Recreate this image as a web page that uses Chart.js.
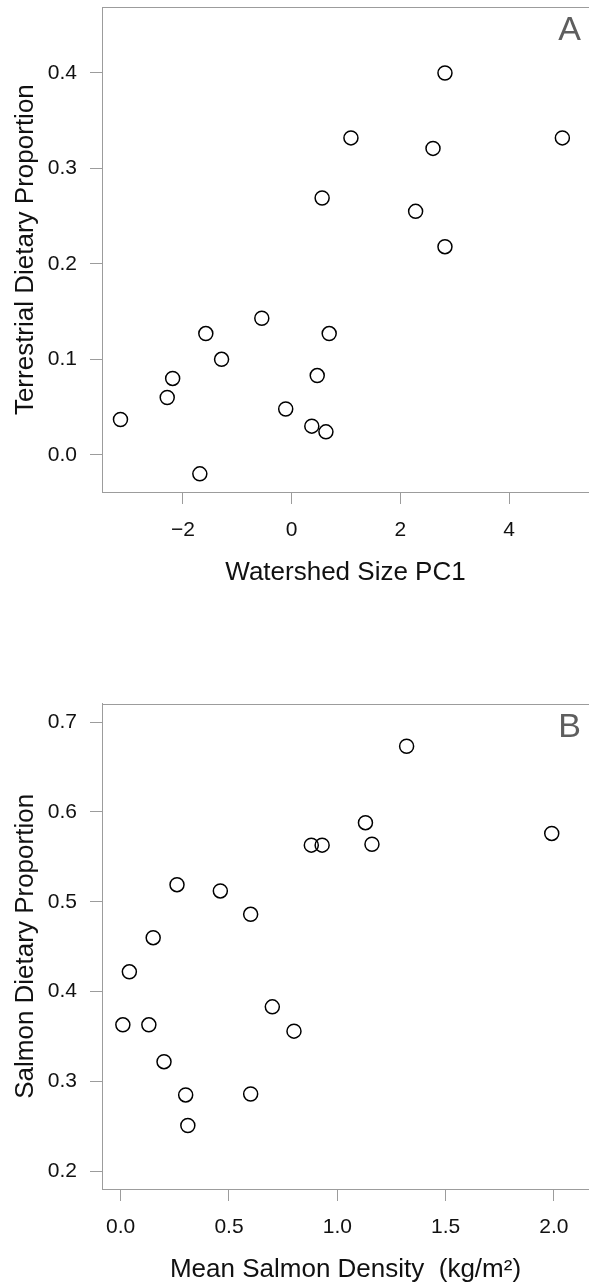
<!DOCTYPE html>
<html><head><meta charset="utf-8">
<script src="https://cdn.jsdelivr.net/npm/chart.js@4/dist/chart.umd.min.js"></script>
<style>
html,body{margin:0;padding:0;background:#fff;}
#wrap{position:relative;width:589px;height:1285px;overflow:hidden;background:#fff;}
.box{position:absolute;left:0;width:589px;}
</style></head><body>
<div id="wrap">
<div class="box" style="top:0;height:640px"><canvas id="cA"></canvas></div>
<div class="box" style="top:640px;height:645px"><canvas id="cB"></canvas></div>
</div>
<script>
// Panel A data
const watershedPC1 = [2.82, 1.09, 2.60, 4.98, 0.56, 2.28, 2.82, -3.15, -2.29, -2.19, -1.58, -1.29, -0.55, -0.11, -1.69, 0.69, 0.47, 0.37, 0.63];
const terrestrialProp = [0.400, 0.332, 0.321, 0.332, 0.269, 0.255, 0.218, 0.037, 0.060, 0.080, 0.127, 0.100, 0.143, 0.048, -0.020, 0.127, 0.083, 0.030, 0.024];
// Panel B data
const salmonDensity = [0.26, 0.46, 0.60, 1.32, 1.13, 0.88, 0.93, 1.16, 1.99, 0.15, 0.04, 0.01, 0.13, 0.20, 0.30, 0.31, 0.60, 0.70, 0.80];
const salmonProp = [0.519, 0.512, 0.486, 0.673, 0.588, 0.563, 0.563, 0.564, 0.576, 0.460, 0.422, 0.363, 0.363, 0.322, 0.285, 0.251, 0.286, 0.383, 0.356];
// Tick values
const ticksAX = [-2, 0, 2, 4];
const ticksAY = [0.0, 0.1, 0.2, 0.3, 0.4];
const ticksBX = [0.0, 0.5, 1.0, 1.5, 2.0];
const ticksBY = [0.2, 0.3, 0.4, 0.5, 0.6, 0.7];

const GRAY = '#9c9c9c';
const FONT = "'Liberation Sans', Arial, Helvetica, sans-serif";

const frame = {
  id: 'frame',
  afterDraw(chart, args, opts) {
    const {ctx, chartArea: a} = chart;
    ctx.save();
    ctx.strokeStyle = GRAY;
    ctx.lineWidth = 1;
    ctx.beginPath();
    ctx.moveTo(a.left, Math.round(a.top) + 0.5);
    ctx.lineTo(a.right + 5, Math.round(a.top) + 0.5);
    ctx.stroke();
    ctx.fillStyle = '#5e5e5e';
    ctx.font = '34px ' + FONT;
    ctx.textAlign = 'right';
    ctx.textBaseline = 'alphabetic';
    ctx.fillText(opts.letter, a.right - 8, a.top + 33);
    ctx.restore();
  }
};

function fmtMinus(v) { return v < 0 ? '\u2212' + Math.abs(v) : String(v); }
function noPad(s) { s.paddingLeft = 0; s.paddingRight = 0; s.paddingTop = 0; s.paddingBottom = 0; }

function makeChart(id, xs, ys, xr, yr, xt, yt, xTitle, yTitle, letter, padTop, xAxisH, xTitlePad, xFmt) {
  const pts = xs.map((x, i) => ({x: x, y: ys[i]}));
  return new Chart(document.getElementById(id), {
    type: 'scatter',
    data: {datasets: [{data: pts, pointRadius: 7, pointHoverRadius: 7, borderWidth: 1.5,
      borderColor: '#000', backgroundColor: 'rgba(0,0,0,0)', pointStyle: 'circle'}]},
    plugins: [frame],
    options: {
      responsive: true, maintainAspectRatio: false, animation: false, devicePixelRatio: 1,
      layout: {autoPadding: false, padding: {top: padTop, right: 0, left: 0, bottom: 0}},
      plugins: {legend: {display: false}, tooltip: {enabled: false}, frame: {letter: letter}},
      scales: {
        x: {
          type: 'linear', min: xr[0], max: xr[1],
          afterBuildTicks: s => { s.ticks = xt.map(v => ({value: v})); },
          afterFit: s => { s.height = xAxisH; noPad(s); },
          grid: {display: true, drawOnChartArea: false, drawTicks: true, tickLength: 12, color: GRAY, lineWidth: 1},
          border: {display: true, color: GRAY, width: 1},
          ticks: {color: '#111', font: {family: FONT, size: 21}, padding: 14, maxRotation: 0, autoSkip: false, callback: xFmt},
          title: {display: true, text: xTitle, color: '#111', font: {family: FONT, size: 26, lineHeight: 1.2}, padding: {top: 0, bottom: xTitlePad}}
        },
        y: {
          type: 'linear', min: yr[0], max: yr[1],
          afterBuildTicks: s => { s.ticks = yt.map(v => ({value: v})); },
          afterFit: s => { s.width = 102; noPad(s); },
          grid: {display: true, drawOnChartArea: false, drawTicks: true, tickLength: 12, color: GRAY, lineWidth: 1},
          border: {display: true, color: GRAY, width: 1},
          ticks: {color: '#111', font: {family: FONT, size: 21}, padding: 13, autoSkip: false, callback: v => Number(v).toFixed(1)},
          title: {display: true, text: yTitle, color: '#111', font: {family: FONT, size: 26, lineHeight: 1.2}, padding: {top: 10, bottom: 0}}
        }
      }
    }
  });
}

makeChart('cA', watershedPC1, terrestrialProp, [-3.49, 5.47], [-0.039, 0.4688], ticksAX, ticksAY,
  'Watershed Size PC1', 'Terrestrial Dietary Proportion', 'A', 7.3, 148, 52, v => fmtMinus(v));
makeChart('cB', salmonDensity, salmonProp, [-0.0863, 2.162], [0.1803, 0.7204], ticksBX, ticksBY,
  'Mean Salmon Density  (kg/m\u00B2)', 'Salmon Dietary Proportion', 'B', 63.7, 96, 0, v => Number(v).toFixed(1));
</script>
</body></html>
